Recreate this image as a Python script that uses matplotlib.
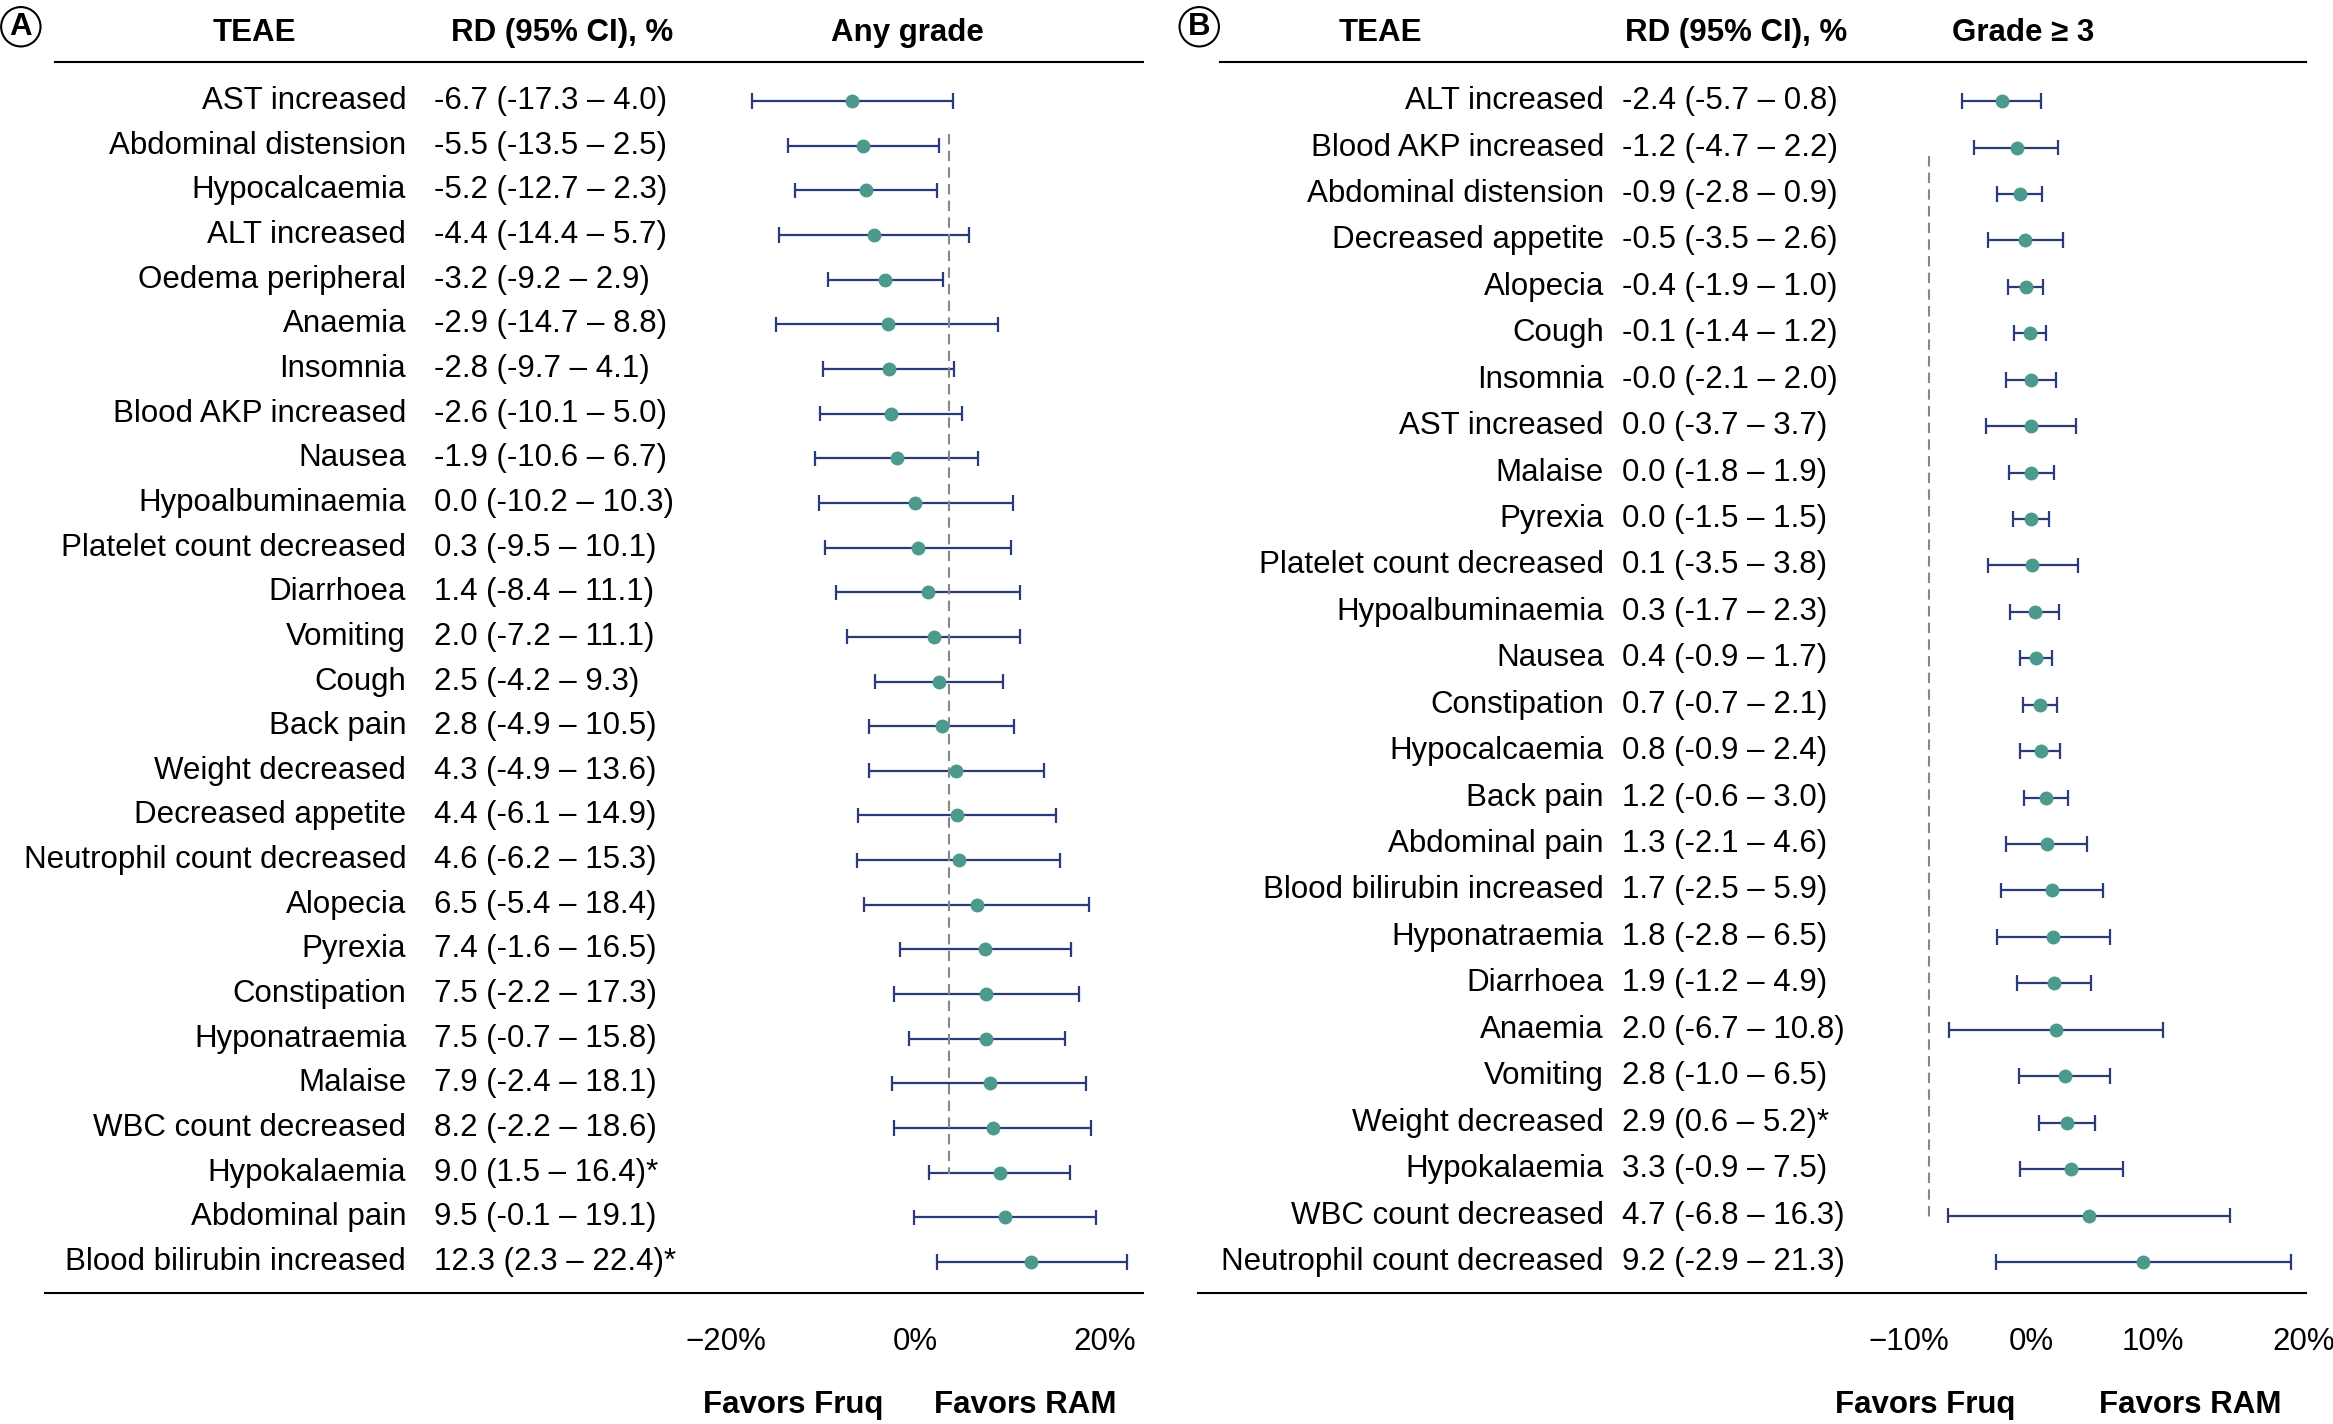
import numpy as np
import matplotlib.pyplot as plt

plt.rcParams['font.family'] = ['Liberation Sans', 'DejaVu Sans']

a_names = ["AST increased", "Abdominal distension", "Hypocalcaemia", "ALT increased",
           "Oedema peripheral", "Anaemia", "Insomnia", "Blood AKP increased", "Nausea",
           "Hypoalbuminaemia", "Platelet count decreased", "Diarrhoea", "Vomiting", "Cough",
           "Back pain", "Weight decreased", "Decreased appetite", "Neutrophil count decreased",
           "Alopecia", "Pyrexia", "Constipation", "Hyponatraemia", "Malaise",
           "WBC count decreased", "Hypokalaemia", "Abdominal pain", "Blood bilirubin increased"]
a_rd = [-6.7, -5.5, -5.2, -4.4, -3.2, -2.9, -2.8, -2.6, -1.9, 0.0, 0.3, 1.4, 2.0, 2.5, 2.8,
        4.3, 4.4, 4.6, 6.5, 7.4, 7.5, 7.5, 7.9, 8.2, 9.0, 9.5, 12.3]
a_lo = [-17.3, -13.5, -12.7, -14.4, -9.2, -14.7, -9.7, -10.1, -10.6, -10.2, -9.5, -8.4, -7.2,
        -4.2, -4.9, -4.9, -6.1, -6.2, -5.4, -1.6, -2.2, -0.7, -2.4, -2.2, 1.5, -0.1, 2.3]
a_hi = [4.0, 2.5, 2.3, 5.7, 2.9, 8.8, 4.1, 5.0, 6.7, 10.3, 10.1, 11.1, 11.1, 9.3, 10.5, 13.6,
        14.9, 15.3, 18.4, 16.5, 17.3, 15.8, 18.1, 18.6, 16.4, 19.1, 22.4]
a_sig = [False] * 24 + [True, False, True]
a_ref = 3.6

b_names = ["ALT increased", "Blood AKP increased", "Abdominal distension", "Decreased appetite",
           "Alopecia", "Cough", "Insomnia", "AST increased", "Malaise", "Pyrexia",
           "Platelet count decreased", "Hypoalbuminaemia", "Nausea", "Constipation",
           "Hypocalcaemia", "Back pain", "Abdominal pain", "Blood bilirubin increased",
           "Hyponatraemia", "Diarrhoea", "Anaemia", "Vomiting", "Weight decreased",
           "Hypokalaemia", "WBC count decreased", "Neutrophil count decreased"]
b_rd = [-2.4, -1.2, -0.9, -0.5, -0.4, -0.1, -0.0, 0.0, 0.0, 0.0, 0.1, 0.3, 0.4, 0.7, 0.8,
        1.2, 1.3, 1.7, 1.8, 1.9, 2.0, 2.8, 2.9, 3.3, 4.7, 9.2]
b_lo = [-5.7, -4.7, -2.8, -3.5, -1.9, -1.4, -2.1, -3.7, -1.8, -1.5, -3.5, -1.7, -0.9, -0.7,
        -0.9, -0.6, -2.1, -2.5, -2.8, -1.2, -6.7, -1.0, 0.6, -0.9, -6.8, -2.9]
b_hi = [0.8, 2.2, 0.9, 2.6, 1.0, 1.2, 2.0, 3.7, 1.9, 1.5, 3.8, 2.3, 1.7, 2.1, 2.4, 3.0, 4.6,
        5.9, 6.5, 4.9, 10.8, 6.5, 5.2, 7.5, 16.3, 21.3]
b_sig = [False] * 22 + [True, False, False, False]
b_ref = -8.4

W, H = 1568.0, 958.0
fig = plt.figure(figsize=(23.33, 14.24), dpi=100)
FS = 22.5
NAVY = '#2b3a7a'
TEAL = '#4b9a8b'


def fx(x):
    return x / W


def fy(y):
    return 1 - y / H


def panel(letter, names, rd, lo, hi, sig, ref, ax_l, ax_r, xlim, ticks, cols, lines,
          heads, favors, ref_span, bold_x):
    n = len(names)
    y0, y1 = 68, 849
    step = (y1 - y0) / (n - 1)
    top, bot = 42, 870
    ax = fig.add_axes([fx(ax_l), fy(bot), fx(ax_r - ax_l), (bot - top) / H])
    ax.set_xlim(*xlim)
    ax.set_ylim((bot - y0) / step, (top - y0) / step)
    ax.axis('off')
    ys = np.arange(n)
    ax.hlines(ys, lo, hi, color=NAVY, lw=1.6)
    for yy, l, h in zip(ys, lo, hi):
        ax.vlines([l, h], yy - 0.17, yy + 0.17, color=NAVY, lw=1.6)
    ax.plot(rd, ys, 'o', color=TEAL, ms=9, zorder=3)
    ax.vlines(ref, (ref_span[0] - y0) / step, (ref_span[1] - y0) / step,
              color='#888888', lw=1.5, linestyles=(0, (5, 3)))
    for t, lab in ticks:
        x = ax_l + (t - xlim[0]) / (xlim[1] - xlim[0]) * (ax_r - ax_l)
        fig.text(fx(x), fy(903), lab, fontsize=FS, ha='center', va='center')
    for i in range(n):
        yy = fy(y0 + i * step)
        fig.text(fx(cols[0]), yy, names[i], fontsize=FS, ha='right', va='center')
        s = f"{rd[i]:.1f} ({lo[i]:.1f} \u2013 {hi[i]:.1f})"
        if sig[i]:
            s += "*"
        fig.text(fx(cols[1]), yy, s, fontsize=FS, ha='left', va='center')
    for (x, lab) in heads:
        fig.text(fx(x), fy(22), lab, fontsize=FS, ha='center', va='center', weight='bold')
    for (x, lab) in favors:
        fig.text(fx(x), fy(945), lab, fontsize=FS, ha='center', va='center', weight='bold')
    fig.add_artist(plt.Line2D([fx(lines[0]), fx(lines[2])], [fy(top), fy(top)], color='k', lw=1.5))
    fig.add_artist(plt.Line2D([fx(lines[1]), fx(lines[2])], [fy(bot), fy(bot)], color='k', lw=1.5))
    fig.text(fx(bold_x), fy(18), letter, fontsize=FS, ha='center', va='center', weight='bold',
             bbox=dict(boxstyle='circle,pad=0.15', fc='white', ec='k', lw=1.5))


panel('A', a_names, a_rd, a_lo, a_hi, a_sig, a_ref, 455, 765, (-25.2, 23.6),
      [(-20, '\u221220%'), (0, '0%'), (20, '20%')], (273, 292), (37, 30, 768),
      [(171, 'TEAE'), (378, 'RD (95% CI), %'), (610, 'Any grade')],
      [(533, 'Favors Fruq'), (689, 'Favors RAM')], (90, 790), 14)

panel('B', b_names, b_rd, b_lo, b_hi, b_sig, b_ref, 1296 - 3, 1548, (-8.8, 22.3),
      [(-10, '\u221210%'), (0, '0%'), (10, '10%'), (22.3, '20%')], (1078, 1090), (820, 805, 1550),
      [(928, 'TEAE'), (1167, 'RD (95% CI), %'), (1360, 'Grade \u2265 3')],
      [(1294, 'Favors Fruq'), (1472, 'Favors RAM')], (105, 820), 806)

fig.savefig('out.png', dpi=100)
